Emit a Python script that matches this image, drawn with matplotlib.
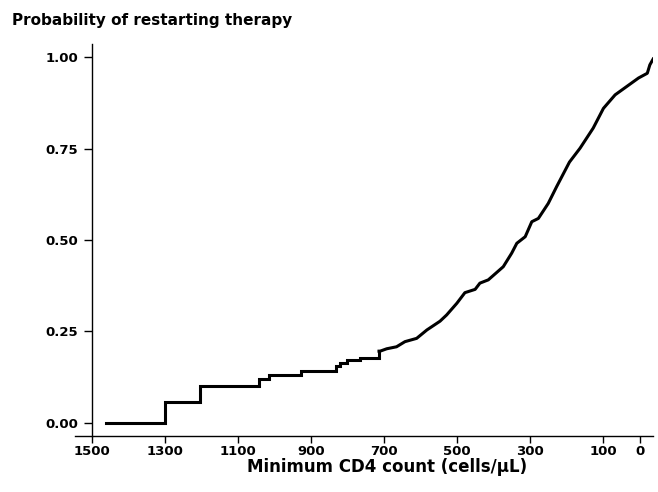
import matplotlib
matplotlib.use("Agg")
import matplotlib.pyplot as plt
import numpy as np

# --- Data ---
# early part of the curve: sparse events, drawn as steps
step_cd4 = [1461, 1300, 1204, 1041, 1015, 928, 832, 820, 802, 766, 714]
step_prob = [0.000, 0.058, 0.100, 0.119, 0.132, 0.143, 0.155, 0.164, 0.172, 0.177, 0.196]

# later part: dense events, drawn as a line
curve_cd4 = [714, 711, 693, 666, 643, 611, 583, 547, 529, 501, 479, 451, 438, 415,
             374, 351, 337, 314, 296, 278, 251, 228, 193, 164, 128, 100, 68, 36,
             4, -20, -27, -36]
curve_prob = [0.196, 0.196, 0.2025, 0.208, 0.222, 0.231, 0.254, 0.278, 0.295, 0.327,
              0.356, 0.365, 0.382, 0.391, 0.427, 0.464, 0.491, 0.509, 0.550, 0.559,
              0.600, 0.646, 0.713, 0.751, 0.806, 0.860, 0.897, 0.920, 0.943, 0.956,
              0.979, 0.995]

x_ticks = [1500, 1300, 1100, 900, 700, 500, 300, 100, 0]
y_ticks = [0.0, 0.25, 0.5, 0.75, 1.0]

# --- Plot ---
plt.rcParams['font.family'] = ['DejaVu Sans']
plt.rcParams['font.weight'] = 'bold'

W, H = 658, 492
fig = plt.figure(figsize=(W / 100, H / 100), dpi=100)
ax = fig.add_axes([75 / W, (H - 436) / H, 578 / W, 392 / H])

ax.plot(step_cd4, step_prob, drawstyle='steps-post', color='black', lw=2.2,
        solid_joinstyle='miter')
ax.plot(curve_cd4, curve_prob, color='black', lw=2.2)

ax.set_xlim(1545.7, -35.6)
ax.set_ylim(-0.036, 1.036)
ax.set_xticks(x_ticks)
ax.set_yticks(y_ticks)
ax.set_yticklabels([f"{v:.2f}" for v in y_ticks])

ax.spines['top'].set_visible(False)
ax.spines['right'].set_visible(False)
ax.spines['left'].set_position(('data', 1500))
for s in ('left', 'bottom'):
    ax.spines[s].set_linewidth(1.0)
ax.tick_params(direction='out', width=1.0, labelsize=9.5)
ax.tick_params(axis='x', length=5, pad=1.5)
ax.tick_params(axis='y', length=6, pad=4)

fig.text(12 / W, 1 - 20 / H, "Probability of restarting therapy",
         ha='left', va='center', fontsize=11, fontweight='bold')
fig.text(387 / W, 1 - 467 / H, "Minimum CD4 count (cells/\u00b5L)",
         ha='center', va='center', fontsize=12, fontweight='bold')

fig.savefig("out.png", dpi=100)
